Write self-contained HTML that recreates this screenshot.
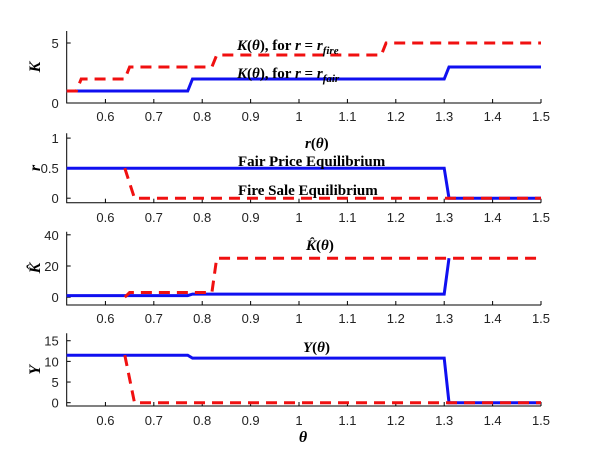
<!DOCTYPE html>
<html><head><meta charset="utf-8"><style>
body{margin:0;background:#fff}
svg{display:block}
.tk{font-family:"Liberation Sans",sans-serif;font-size:13px;fill:#222}
.lb{font-family:"Liberation Serif",serif;font-size:15px;fill:#000;font-weight:bold}
.yl{font-family:"Liberation Serif",serif;font-size:16px;font-weight:bold;font-style:italic;fill:#000}
</style></head><body>
<svg id="c" width="600" height="467"></svg>
<script>
const xTicks=[0.6,0.7,0.8,0.9,1,1.1,1.2,1.3,1.4,1.5];
const xTickLabels=["0.6","0.7","0.8","0.9","1","1.1","1.2","1.3","1.4","1.5"];
// panel 1: K
const kFairX=[0.52,0.77,0.78,1.30,1.31,1.5];
const kFairY=[1,1,2,2,3,3];
const kFireX=[0.52,0.54,0.55,0.64,0.65,0.82,0.83,1.17,1.18,1.5];
const kFireY=[1,1,2,2,3,3,4,4,5,5];
// panel 2: r
const rFairX=[0.52,1.30,1.31,1.5];
const rFairY=[0.5,0.5,0,0];
const rFireX=[0.64,0.66,1.5];
const rFireY=[0.5,0,0];
// panel 3: K hat
const khFairX=[0.52,0.77,0.78,1.30,1.31];
const khFairY=[1,1,2,2,25];
const khFireX=[0.64,0.65,0.82,0.83,1.5];
const khFireY=[0,3,3,25,25];
// panel 4: Y
const yFairX=[0.52,0.77,0.78,1.30,1.31,1.5];
const yFairY=[11.5,11.5,10.8,10.8,0,0];
const yFireX=[0.64,0.66,1.5];
const yFireY=[11.5,0,0];

const svg=document.getElementById('c');
const NS='http://www.w3.org/2000/svg';
function mk(t,a,p){const e=document.createElementNS(NS,t);for(const k in a)e.setAttribute(k,a[k]);(p||svg).appendChild(e);return e;}
const X0=66.7,X1=541,XMIN=0.52,XMAX=1.5;
const sx=v=>X0+(v-XMIN)/(XMAX-XMIN)*(X1-X0);
const panels=[
 {name:'k-panel',top:31,bot:103,ymin:0,ymax:6,yt:[0,5],ylab:'K',ylabY:67,xlY:121,
  series:[[kFairX,kFairY,'fair'],[kFireX,kFireY,'fire']]},
 {name:'r-panel',top:133.3,bot:202.7,ymin:-0.075,ymax:1.08,yt:[0,0.5,1],ylab:'r',ylabY:168,xlY:222,
  series:[[rFairX,rFairY,'fair'],[rFireX,rFireY,'fire']]},
 {name:'khat-panel',top:231.7,bot:305,ymin:-5,ymax:42,yt:[0,20,40],ylab:'K̂',ylabY:268,xlY:323,
  series:[[khFairX,khFairY,'fair'],[khFireX,khFireY,'fire']]},
 {name:'y-panel',top:333.3,bot:406,ymin:-0.8,ymax:16.8,yt:[0,5,10,15],ylab:'Y',ylabY:370,xlY:425,
  series:[[yFairX,yFairY,'fair'],[yFireX,yFireY,'fire']]}
];
panels.forEach(p=>{
 const g=mk('g',{});
 
 
 const sy=v=>p.bot-(v-p.ymin)/(p.ymax-p.ymin)*(p.bot-p.top);
 const ax=mk('path',{d:`M${X0},${p.top}V${p.bot}H${X1}`,fill:'none',stroke:'#000','stroke-width':1},g);
 
 
 xTicks.forEach((t,i)=>{
  mk('line',{x1:sx(t),x2:sx(t),y1:p.bot,y2:p.bot-4,stroke:'#000'},g);
  const tx=mk('text',{x:sx(t),y:p.xlY,'text-anchor':'middle',class:'tk'},g);
  tx.textContent=xTickLabels[i];
  
  
 });
 p.yt.forEach(t=>{
  mk('line',{x1:X0,x2:X0+4,y1:sy(t),y2:sy(t),stroke:'#000'},g);
  const tx=mk('text',{x:X0-8,y:sy(t)+5,'text-anchor':'end',class:'tk'},g);
  tx.textContent=String(t);
  
  
 });
 const yl=mk('text',{x:0,y:0,transform:`translate(40,${p.ylabY}) rotate(-90)`,'text-anchor':'middle',class:'yl'},g);
 yl.textContent=p.ylab;
 
 
 p.series.forEach(([xs,ys,kind])=>{
  const d=xs.map((x,i)=>(i?'L':'M')+sx(x).toFixed(1)+','+sy(ys[i]).toFixed(1)).join('');
  const a={d,fill:'none','stroke-width':3};
  if(kind==='fair'){a.stroke='#1010f0';}else{a.stroke='#f01010';a['stroke-dasharray']='11,7';}
  const pe=mk('path',a,g);
  
  
 });
});
function lab(x,y,html,name){const t=mk('text',{x,y,class:'lb'});t.innerHTML=html;
 
 }
lab(237,50,'<tspan font-style="italic">K</tspan>(<tspan font-style="italic">θ</tspan>), for <tspan font-style="italic">r</tspan> = <tspan font-style="italic">r</tspan><tspan font-size="11" font-style="italic" dy="4">fire</tspan>','fire-label');
lab(237,78,'<tspan font-style="italic">K</tspan>(<tspan font-style="italic">θ</tspan>), for <tspan font-style="italic">r</tspan> = <tspan font-style="italic">r</tspan><tspan font-size="11" font-style="italic" dy="4">fair</tspan>','fair-label');
lab(305,148,'<tspan font-style="italic">r</tspan>(<tspan font-style="italic">θ</tspan>)','r-title');
lab(238,166,'Fair Price Equilibrium','fair-price-label');
lab(238,195,'Fire Sale Equilibrium','fire-sale-label');
lab(306,250,'<tspan font-style="italic">K̂</tspan>(<tspan font-style="italic">θ</tspan>)','khat-title');
lab(303,352,'<tspan font-style="italic">Y</tspan>(<tspan font-style="italic">θ</tspan>)','y-title');
const th=mk('text',{x:303,y:442,'text-anchor':'middle',class:'yl'});th.textContent='θ';


</script>
</body></html>
